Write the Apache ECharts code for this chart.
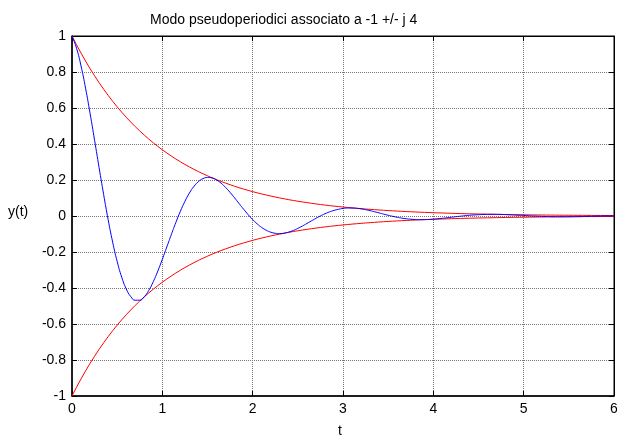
<!DOCTYPE html>
<html>
<head>
<meta charset="utf-8">
<script src="https://cdn.jsdelivr.net/npm/echarts@6/dist/echarts.min.js"></script>
<style>
html, body { margin: 0; padding: 0; background: #fff; }
#main { width: 617px; height: 439px; }
</style>
</head>
<body>
<div id="main"></div>
<script>
// time samples (step 0.05)
const t = [
    0, 0.05, 0.1, 0.15, 0.2, 0.25, 0.3, 0.35, 0.4, 0.45, 0.5, 0.55, 0.6, 0.65, 0.7, 0.75, 0.8, 0.85, 0.9, 0.95,
    1, 1.05, 1.1, 1.15, 1.2, 1.25, 1.3, 1.35, 1.4, 1.45, 1.5, 1.55, 1.6, 1.65, 1.7, 1.75, 1.8, 1.85, 1.9, 1.95,
    2, 2.05, 2.1, 2.15, 2.2, 2.25, 2.3, 2.35, 2.4, 2.45, 2.5, 2.55, 2.6, 2.65, 2.7, 2.75, 2.8, 2.85, 2.9, 2.95,
    3, 3.05, 3.1, 3.15, 3.2, 3.25, 3.3, 3.35, 3.4, 3.45, 3.5, 3.55, 3.6, 3.65, 3.7, 3.75, 3.8, 3.85, 3.9, 3.95,
    4, 4.05, 4.1, 4.15, 4.2, 4.25, 4.3, 4.35, 4.4, 4.45, 4.5, 4.55, 4.6, 4.65, 4.7, 4.75, 4.8, 4.85, 4.9, 4.95,
    5, 5.05, 5.1, 5.15, 5.2, 5.25, 5.3, 5.35, 5.4, 5.45, 5.5, 5.55, 5.6, 5.65, 5.7, 5.75, 5.8, 5.85, 5.9, 5.95,
    6
];

// oscillating response
const yResp = [
    1.0000, 0.9323, 0.8334, 0.7103, 0.5704, 0.4208, 0.2685, 0.1198, -0.0196, -0.1449,
    -0.2524, -0.3395, -0.4047, -0.4473, -0.4679, -0.4677, -0.4485, -0.4132, -0.3646, -0.3059,
    -0.2405, -0.1716, -0.1023, -0.0355, 0.0264, 0.0813, 0.1277, 0.1645, 0.1913, 0.2077,
    0.2142, 0.2115, 0.2005, 0.1824, 0.1588, 0.1310, 0.1006, 0.0689, 0.0376, 0.0077,
    -0.0197, -0.0437, -0.0636, -0.0791, -0.0899, -0.0960, -0.0978, -0.0954, -0.0893, -0.0803,
    -0.0689, -0.0558, -0.0417, -0.0272, -0.0131, 0.0003, 0.0123, 0.0227, 0.0310, 0.0372,
    0.0420, 0.0443, 0.0444, 0.0429, 0.0397, 0.0352, 0.0297, 0.0236, 0.0171, 0.0105,
    0.0041, -0.0018, -0.0071, -0.0116, -0.0152, -0.0179, -0.0196, -0.0203, -0.0201, -0.0192,
    -0.0175, -0.0153, -0.0128, -0.0100, -0.0069, -0.0039, -0.0011, 0.0016, 0.0039, 0.0058,
    0.0073, 0.0084, 0.0091, 0.0093, 0.0091, 0.0086, 0.0077, 0.0066, 0.0054, 0.0041,
    0.0027, 0.0014, 0.0001, -0.0010, -0.0020, -0.0028, -0.0035, -0.0039, -0.0042, -0.0042,
    -0.0041, -0.0038, -0.0034, -0.0029, -0.0023, -0.0017, -0.0011, -0.0005, 0.0001, 0.0006,
    0.0011
];

// upper envelope
const envUp = [
    1.0000, 0.9512, 0.9048, 0.8607, 0.8187, 0.7788, 0.7408, 0.7047, 0.6703, 0.6376,
    0.6065, 0.5769, 0.5488, 0.5220, 0.4966, 0.4724, 0.4493, 0.4274, 0.4066, 0.3867,
    0.3679, 0.3499, 0.3329, 0.3166, 0.3012, 0.2865, 0.2725, 0.2592, 0.2466, 0.2346,
    0.2231, 0.2122, 0.2019, 0.1920, 0.1827, 0.1738, 0.1653, 0.1572, 0.1496, 0.1423,
    0.1353, 0.1287, 0.1225, 0.1165, 0.1108, 0.1054, 0.1003, 0.0954, 0.0907, 0.0863,
    0.0821, 0.0781, 0.0743, 0.0707, 0.0672, 0.0639, 0.0608, 0.0578, 0.0550, 0.0523,
    0.0498, 0.0474, 0.0450, 0.0429, 0.0408, 0.0388, 0.0369, 0.0351, 0.0334, 0.0317,
    0.0302, 0.0287, 0.0273, 0.0260, 0.0247, 0.0235, 0.0224, 0.0213, 0.0202, 0.0193,
    0.0183, 0.0174, 0.0166, 0.0158, 0.0150, 0.0143, 0.0136, 0.0129, 0.0123, 0.0117,
    0.0111, 0.0106, 0.0101, 0.0096, 0.0091, 0.0087, 0.0082, 0.0078, 0.0074, 0.0071,
    0.0067, 0.0064, 0.0061, 0.0058, 0.0055, 0.0052, 0.0050, 0.0047, 0.0045, 0.0043,
    0.0041, 0.0039, 0.0037, 0.0035, 0.0033, 0.0032, 0.0030, 0.0029, 0.0027, 0.0026,
    0.0025
];

// lower envelope
const envLow = [
    -1.0000, -0.9512, -0.9048, -0.8607, -0.8187, -0.7788, -0.7408, -0.7047, -0.6703, -0.6376,
    -0.6065, -0.5769, -0.5488, -0.5220, -0.4966, -0.4724, -0.4493, -0.4274, -0.4066, -0.3867,
    -0.3679, -0.3499, -0.3329, -0.3166, -0.3012, -0.2865, -0.2725, -0.2592, -0.2466, -0.2346,
    -0.2231, -0.2122, -0.2019, -0.1920, -0.1827, -0.1738, -0.1653, -0.1572, -0.1496, -0.1423,
    -0.1353, -0.1287, -0.1225, -0.1165, -0.1108, -0.1054, -0.1003, -0.0954, -0.0907, -0.0863,
    -0.0821, -0.0781, -0.0743, -0.0707, -0.0672, -0.0639, -0.0608, -0.0578, -0.0550, -0.0523,
    -0.0498, -0.0474, -0.0450, -0.0429, -0.0408, -0.0388, -0.0369, -0.0351, -0.0334, -0.0317,
    -0.0302, -0.0287, -0.0273, -0.0260, -0.0247, -0.0235, -0.0224, -0.0213, -0.0202, -0.0193,
    -0.0183, -0.0174, -0.0166, -0.0158, -0.0150, -0.0143, -0.0136, -0.0129, -0.0123, -0.0117,
    -0.0111, -0.0106, -0.0101, -0.0096, -0.0091, -0.0087, -0.0082, -0.0078, -0.0074, -0.0071,
    -0.0067, -0.0064, -0.0061, -0.0058, -0.0055, -0.0052, -0.0050, -0.0047, -0.0045, -0.0043,
    -0.0041, -0.0039, -0.0037, -0.0035, -0.0033, -0.0032, -0.0030, -0.0029, -0.0027, -0.0026,
    -0.0025
];

const titleText = 'Modo pseudoperiodici associato a -1 +/- j 4';
const xName = 't';
const yName = 'y(t)';

function pairs(ys) {
    return t.map((x, i) => [x, ys[i]]);
}

const font = 'Liberation Sans, Arial, sans-serif';
const fmt = v => String(+v.toFixed(1));

let myChart = echarts.init(document.getElementById('main'));
myChart.setOption({
    backgroundColor: '#fff',
    animation: false,
    title: {
        text: titleText,
        left: 145,
        top: 8,
        textStyle: { fontFamily: font, fontSize: 14, fontWeight: 'normal', color: '#000' }
    },
    graphic: [
        {
            type: 'text', left: 8, top: 205,
            style: { text: yName, font: '14px ' + font, fill: '#000' }
        },
        {
            type: 'text', left: 338, top: 424,
            style: { text: xName, font: '14px ' + font, fill: '#000' }
        }
    ],
    grid: {
        left: 72, right: 3, top: 36, bottom: 43,
        outerBoundsMode: 'none', containLabel: false,
        show: true, borderColor: '#000', borderWidth: 1, backgroundColor: 'transparent'
    },
    xAxis: [
        {
            type: 'value', min: 0, max: 6, interval: 1, position: 'bottom',
            axisLine: { onZero: false, lineStyle: { color: '#000', width: 1.5 } },
            axisTick: { inside: true, length: 5, lineStyle: { color: '#000' } },
            axisLabel: { color: '#000', fontFamily: font, fontSize: 14, margin: 6, formatter: fmt },
            splitLine: { show: true, lineStyle: { color: '#777', type: [1, 1], width: 1 } }
        },
        {
            type: 'value', min: 0, max: 6, interval: 1, position: 'top',
            axisLine: { show: true, onZero: false, lineStyle: { color: '#000', width: 1 } },
            axisTick: { show: true, inside: true, length: 5, lineStyle: { color: '#000' } },
            axisLabel: { show: false },
            splitLine: { show: false }
        }
    ],
    yAxis: [
        {
            type: 'value', min: -1, max: 1, interval: 0.2, position: 'left',
            axisLine: { onZero: false, lineStyle: { color: '#000', width: 1.5 } },
            axisTick: { show: true, inside: true, length: 5, lineStyle: { color: '#000' } },
            axisLabel: { color: '#000', fontFamily: font, fontSize: 14, margin: 6, formatter: fmt },
            splitLine: { show: true, lineStyle: { color: '#777', type: [1, 1], width: 1 } }
        },
        {
            type: 'value', min: -1, max: 1, interval: 0.2, position: 'right',
            axisLine: { show: true, onZero: false, lineStyle: { color: '#000', width: 1 } },
            axisTick: { show: true, inside: true, length: 5, lineStyle: { color: '#000' } },
            axisLabel: { show: false },
            splitLine: { show: false }
        }
    ],
    series: [
        {
            type: 'line', data: pairs(envUp), showSymbol: false, smooth: false,
            lineStyle: { color: '#ff0000', width: 1 }
        },
        {
            type: 'line', data: pairs(envLow), showSymbol: false, smooth: false,
            lineStyle: { color: '#ff0000', width: 1 }
        },
        {
            type: 'line', data: pairs(yResp), showSymbol: false, smooth: true,
            lineStyle: { color: '#0000ff', width: 1 }
        }
    ]
});
</script>
</body>
</html>
